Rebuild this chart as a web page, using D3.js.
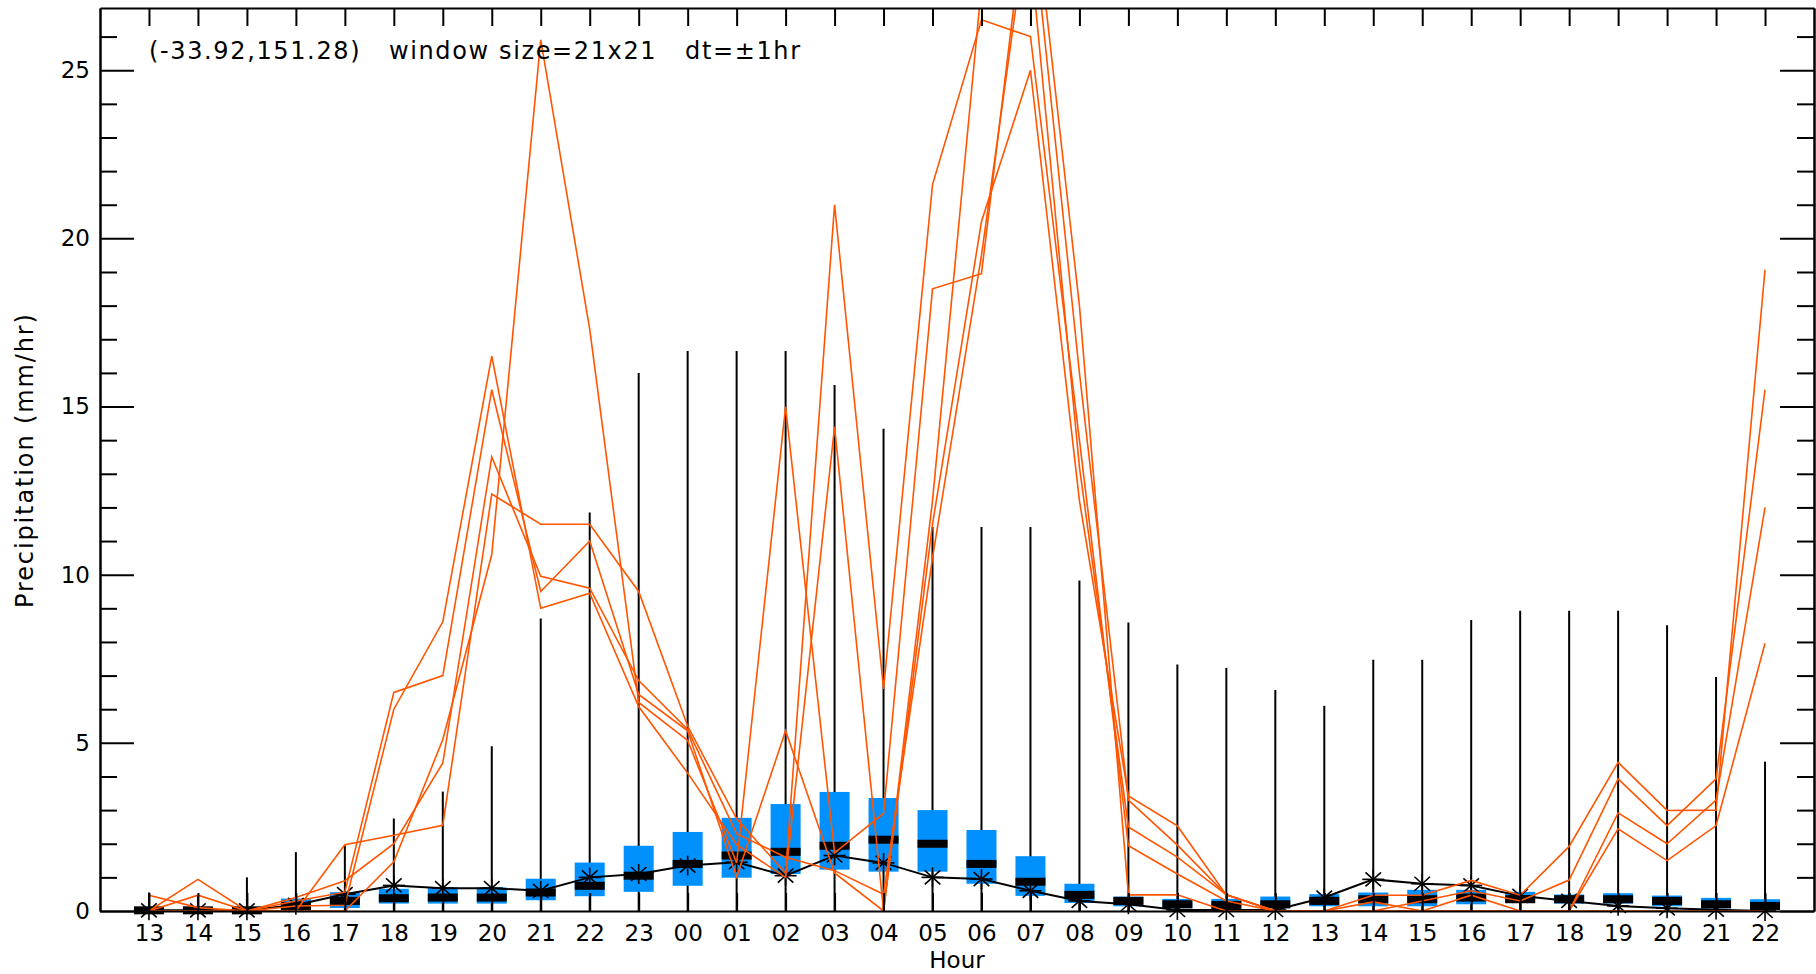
<!DOCTYPE html>
<html>
<head>
<meta charset="utf-8">
<script src="https://cdn.jsdelivr.net/npm/d3@7"></script>
<style>
  html, body { margin: 0; padding: 0; background: #ffffff; }
  svg { display: block; font-family: "DejaVu Sans", sans-serif; }
</style>
</head>
<body>
<div id="chart"></div>
<script>
// Hour labels along the x axis (34 hourly steps)
const hours = ['13','14','15','16','17','18','19','20','21','22','23','00','01','02','03','04','05','06',
               '07','08','09','10','11','12','13','14','15','16','17','18','19','20','21','22'];

// Box statistics per hour (mm/hr)
const boxQ1 = [0, 0, 0, 0.02, 0.09, 0.22, 0.22, 0.22, 0.32, 0.44, 0.57, 0.75, 0.99, 1.1, 1.23, 1.17, 1.17,
               0.81, 0.45, 0.24, 0.14, 0.08, 0.08, 0.08, 0.14, 0.14, 0.14, 0.2, 0.25, 0.22, 0.22, 0.14, 0.08, 0.04];
const boxMedian = [0.02, 0.02, 0.02, 0.15, 0.3, 0.38, 0.4, 0.4, 0.55, 0.75, 1.05, 1.4, 1.65, 1.76, 1.94, 2.12, 2.0,
                   1.4, 0.87, 0.48, 0.3, 0.2, 0.18, 0.2, 0.3, 0.35, 0.35, 0.4, 0.35, 0.35, 0.35, 0.3, 0.2, 0.15];
const boxQ3 = [0.08, 0.08, 0.08, 0.37, 0.56, 0.66, 0.7, 0.7, 0.96, 1.44, 1.94, 2.35, 2.77, 3.18, 3.54, 3.36, 3.0,
               2.41, 1.63, 0.81, 0.43, 0.36, 0.36, 0.43, 0.5, 0.55, 0.63, 0.63, 0.57, 0.49, 0.53, 0.46, 0.39, 0.35];
const boxMax = [0.55, 0.45, 1.0, 1.75, 1.95, 2.75, 3.55, 4.9, 8.7, 11.85, 16.0, 16.65, 16.65, 16.65, 15.64, 14.34, 11.42,
                11.42, 11.42, 9.83, 8.58, 7.33, 7.23, 6.57, 6.1, 7.47, 7.47, 8.65, 8.93, 8.93, 8.93, 8.5, 6.96, 4.44];

// Mean per hour (black line with asterisks)
const meanVals = [0.02, 0.02, 0.02, 0.18, 0.5, 0.76, 0.68, 0.68, 0.6, 1.0, 1.1, 1.35, 1.45, 1.05, 1.65, 1.43, 1.0,
                  0.95, 0.6, 0.3, 0.2, 0.03, 0.03, 0.03, 0.4, 0.94, 0.81, 0.76, 0.45, 0.3, 0.15, 0.08, 0.04, 0.0];

// Individual members (orange lines)
const member1 = [0, 0, 0, 0.15, 0.17, 6.0, 8.6, 16.5, 9.0, 9.45, 6.08, 4.1, 1.97, 1.0, 14.4, 0, 12.2,
                 27.5, 28.5, 13.2, 2.5, 1.6, 0.48, 0, 0, 0.47, 0.47, 0.91, 0.47, 1.92, 4.42, 2.99, 3.0, 19.07];
const member2 = [0, 0.47, 0, 0.3, 0.56, 6.5, 7.0, 15.5, 9.5, 11.0, 6.44, 5.36, 1.01, 5.36, 1.13, 0, 11.5,
                 20.5, 25.0, 12.2, 3.42, 2.53, 0.48, 0, 0, 0.27, 0, 0.47, 0, 0, 2.92, 2.0, 3.3, 12.0];
const member3 = [0.47, 0.1, 0, 0.4, 0.9, 2.0, 4.4, 13.5, 9.95, 9.6, 6.85, 5.4, 2.3, 1.6, 1.2, 0.5, 10.5,
                 19.5, 30.0, 16.0, 3.3, 1.96, 0.48, 0, 0, 0, 0.3, 0.6, 0.3, 0.92, 3.93, 2.54, 3.93, 15.5];
const member4 = [0, 0.94, 0, 0, 1.97, 2.25, 2.55, 12.4, 11.5, 11.5, 9.5, 5.5, 2.74, 1.13, 21.0, 6.6, 21.6,
                 26.5, 26.0, 14.0, 1.94, 1.1, 0.3, 0, 0, 0, 0, 0, 0, 0, 2.44, 1.5, 2.54, 7.96];
const member5 = [0, 0, 0, 0, 0, 1.46, 5.1, 10.6, 25.9, 17.3, 6.2, 5.07, 1.43, 15.0, 1.73, 2.9, 18.5,
                 18.95, 31.0, 18.0, 0.48, 0.48, 0, 0, 0, 0, 0, 0, 0, 0, 0, 0, 0, 0];
const members = [member1, member2, member3, member4, member5];

const yMajorTicks = [0, 5, 10, 15, 20, 25];
const yMinorTicks = d3.range(1, 27).filter(v => v % 5 !== 0);

const annotation = '(-33.92,151.28)   window size=21x21   dt=\u00B11hr';

// Layout
const width = 1816, height = 974;
const margin = { left: 100, right: 2, top: 8, bottom: 63 };
const plotW = width - margin.left - margin.right;
const plotH = height - margin.top - margin.bottom;

const svg = d3.select('#chart')
    .append('svg')
    .attr('width', width)
    .attr('height', height);

svg.append('rect').attr('width', width).attr('height', height).attr('fill', '#ffffff');

const g = svg.append('g')
    .attr('transform', `translate(${margin.left},${margin.top})`);

// Scales: one slot before the first hour and one after the last
const x = d3.scaleLinear().domain([-1, hours.length]).range([0, plotW]);
const y = d3.scaleLinear().domain([0, 26.85]).range([plotH, 0]);

g.append('clipPath').attr('id', 'plot-clip')
    .append('rect').attr('width', plotW).attr('height', plotH);

const idx = d3.range(hours.length);
const boxW = 30;

// Whiskers (zero to max)
g.selectAll('.whisker')
    .data(idx)
    .enter()
    .append('line')
    .attr('class', 'whisker')
    .attr('x1', i => x(i)).attr('x2', i => x(i))
    .attr('y1', y(0)).attr('y2', i => y(boxMax[i]))
    .attr('stroke', '#000').attr('stroke-width', 2);

// Boxes
g.selectAll('.box')
    .data(idx)
    .enter()
    .append('rect')
    .attr('class', 'box')
    .attr('x', i => x(i) - boxW / 2)
    .attr('width', boxW)
    .attr('y', i => y(boxQ3[i]))
    .attr('height', i => y(boxQ1[i]) - y(boxQ3[i]))
    .attr('fill', '#0091ff');

// Median bars
g.selectAll('.median')
    .data(idx)
    .enter()
    .append('rect')
    .attr('class', 'median')
    .attr('x', i => x(i) - boxW / 2)
    .attr('width', boxW)
    .attr('y', i => y(boxMedian[i]) - 4)
    .attr('height', 8)
    .attr('fill', '#000');

// Mean line with asterisks
const line = d3.line().x((d, i) => x(i)).y(d => y(d));

g.append('path')
    .datum(meanVals)
    .attr('d', line)
    .attr('fill', 'none')
    .attr('stroke', '#000')
    .attr('stroke-width', 2);

const star = g.selectAll('.star')
    .data(idx)
    .enter()
    .append('g')
    .attr('class', 'star')
    .attr('transform', i => `translate(${x(i)},${y(meanVals[i])})`);

[0, 45, 90, 135].forEach(angle => {
    const r = 11;
    const a = angle * Math.PI / 180;
    star.append('line')
        .attr('x1', -r * Math.cos(a)).attr('y1', -r * Math.sin(a) * 0.9)
        .attr('x2', r * Math.cos(a)).attr('y2', r * Math.sin(a) * 0.9)
        .attr('stroke', '#000').attr('stroke-width', 1.6);
});

// Member lines on top
g.append('g')
    .attr('clip-path', 'url(#plot-clip)')
    .selectAll('.member')
    .data(members)
    .enter()
    .append('path')
    .attr('class', 'member')
    .attr('d', line)
    .attr('fill', 'none')
    .attr('stroke', '#ff5500')
    .attr('stroke-width', 1.6);

// Axes - ticks point inward like the original
const axisStyle = sel => {
    sel.select('.domain').attr('stroke', '#000').attr('stroke-width', 2);
    sel.selectAll('.tick line').attr('stroke', '#000').attr('stroke-width', 2);
    sel.selectAll('.tick text').attr('fill', '#000').style('font-size', '23px')
        .style('font-family', '"DejaVu Sans", sans-serif');
};

g.append('g')
    .call(d3.axisLeft(y).tickValues(yMajorTicks).tickSize(-34).tickSizeOuter(0).tickPadding(10))
    .call(axisStyle);
g.append('g')
    .call(d3.axisLeft(y).tickValues(yMinorTicks).tickSize(-17).tickSizeOuter(0).tickFormat(''))
    .call(axisStyle);

g.append('g')
    .attr('transform', `translate(${plotW},0)`)
    .call(d3.axisRight(y).tickValues(yMajorTicks).tickSize(-34).tickSizeOuter(0).tickFormat(''))
    .call(axisStyle);
g.append('g')
    .attr('transform', `translate(${plotW},0)`)
    .call(d3.axisRight(y).tickValues(yMinorTicks).tickSize(-17).tickSizeOuter(0).tickFormat(''))
    .call(axisStyle);

g.append('g')
    .call(d3.axisTop(x).tickValues(idx).tickSize(-18).tickSizeOuter(0).tickFormat(''))
    .call(axisStyle);

g.append('g')
    .attr('transform', `translate(0,${plotH})`)
    .call(d3.axisBottom(x).tickValues(idx).tickSize(-18).tickSizeOuter(0)
        .tickPadding(14).tickFormat(i => hours[i]))
    .call(axisStyle);

// Labels
svg.append('text')
    .attr('x', margin.left + plotW / 2)
    .attr('y', 968)
    .attr('text-anchor', 'middle')
    .style('font-size', '23px')
    .text('Hour');

svg.append('text')
    .attr('transform', 'translate(33,461) rotate(-90)')
    .attr('text-anchor', 'middle')
    .attr('textLength', 294)
    .style('font-size', '24px')
    .text('Precipitation (mm/hr)');

svg.append('text')
    .attr('x', 149)
    .attr('y', 59)
    .attr('textLength', 651)
    .style('font-size', '24px')
    .style('white-space', 'pre')
    .text(annotation);
</script>
</body>
</html>
